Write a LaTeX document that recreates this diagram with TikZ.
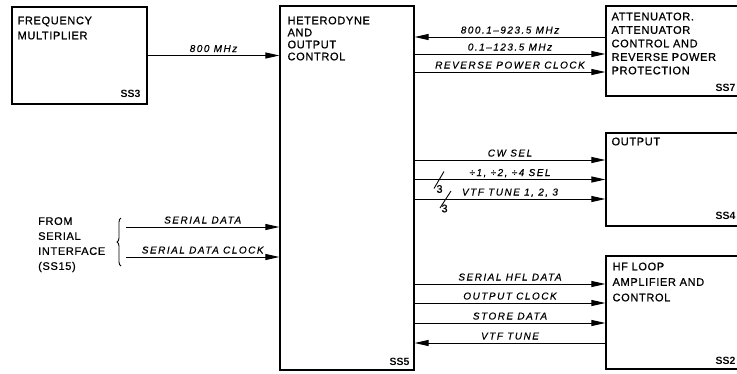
\documentclass[tikz,border=0pt]{standalone}
\usepackage{fontspec}
\setmainfont{Liberation Sans}
\newfontfamily\boxfont{Liberation Sans}[LetterSpace=6,FakeBold=0.8]
\newfontfamily\labfont{Liberation Sans}[LetterSpace=15,FakeBold=0.5]
\usetikzlibrary{arrows.meta,positioning,calc,decorations.pathreplacing}

\begin{document}
\begin{tikzpicture}[
  x=1pt, y=-1pt,
  >={Triangle[length=14pt,width=6pt]},
  blk/.style={draw,line width=1.2pt,inner sep=0pt},
  ttl/.style={font=\boxfont\fontsize{11}{#1}\selectfont,align=left,inner sep=0pt,anchor=north west},
  ttl/.default=13,
  ssl/.style={font=\bfseries\fontsize{10.5}{12}\selectfont,inner sep=0pt,text depth=0pt,anchor=south east},
  sig/.style={line width=1pt},
  lab/.style={midway,above=3pt,inner sep=0pt,text depth=0pt,font=\labfont\itshape\fontsize{10}{12}\selectfont},
  bus/.style={line width=0.9pt},
  busn/.style={font=\boxfont\fontsize{11}{12}\selectfont,inner sep=0pt}
]
\useasboundingbox (0,0) rectangle (737,373);

% ===================== blocks =====================
\node[blk,minimum width=135pt,minimum height=97pt] (ss3) at (79.5,55.5) {};
\node[blk,minimum width=134pt,minimum height=364pt] (ss5) at (347,188) {};
\node[blk,minimum width=136pt,minimum height=90pt] (ss7) at (674,51) {};
\node[blk,minimum width=136pt,minimum height=93pt] (ss4) at (674,179.5) {};
\node[blk,minimum width=136pt,minimum height=113pt] (ss2) at (674,312.5) {};

% titles
\node[ttl=15] (ss3t) at ([xshift=6pt,yshift=-10pt]ss3.north west) {FREQUENCY\\MULTIPLIER};
\node[ttl=12] (ss5t) at ([xshift=8pt,yshift=-11pt]ss5.north west) {HETERODYNE\\AND\\OUTPUT\\CONTROL};
\node[ttl=13.5] (ss7t) at ([xshift=6pt,yshift=-7pt]ss7.north west) {ATTENUATOR.\\ATTENUATOR\\CONTROL AND\\REVERSE POWER\\PROTECTION};
\node[ttl] (ss4t) at ([xshift=6pt,yshift=-5pt]ss4.north west) {OUTPUT};
\node[ttl=15.5] (ss2t) at ([xshift=7pt,yshift=-7pt]ss2.north west) {HF LOOP\\AMPLIFIER AND\\CONTROL};

% subsystem numbers
\node[ssl] (ss3n) at ([xshift=-7pt,yshift=7pt]ss3.south east) {SS3};
\node[ssl] (ss5n) at ([xshift=-5pt,yshift=5pt]ss5.south east) {SS5};
\node[ssl] (ss7n) at ([xshift=-7pt,yshift=5pt]ss7.south east) {SS7};
\node[ssl] (ss4n) at ([xshift=-7pt,yshift=7pt]ss4.south east) {SS4};
\node[ssl] (ss2n) at ([xshift=-7pt,yshift=5pt]ss2.south east) {SS2};

% ===================== serial interface input =====================
\node[ttl=15] (src) at (38,217) {FROM\\SERIAL\\INTERFACE\\(SS15)};
\coordinate (brt) at (121,218);
\coordinate (brb) at (121,266);
\draw[bus,decorate,decoration={brace,amplitude=4pt}] (brb) -- (brt);

\coordinate (sd) at (126,227);
\coordinate (sdc) at (126,257);
\draw[sig,->] (sd) -- (sd -| ss5.west) node[lab] {SERIAL DATA};
\draw[sig,->] (sdc) -- (sdc -| ss5.west) node[lab] {SERIAL DATA CLOCK};

% ===================== signals =====================
\draw[sig,->] (ss3.east) -- (ss3.east -| ss5.west) node[lab] {800 MHz};

\draw[sig,<-] (ss5.east |- 0,37) -- (ss7.west |- 0,37) node[lab] {800.1–923.5 MHz};
\draw[sig,->] (ss5.east |- 0,54) -- (ss7.west |- 0,54) node[lab] {0.1–123.5 MHz};
\draw[sig,->] (ss5.east |- 0,72) -- (ss7.west |- 0,72) node[lab] {REVERSE POWER CLOCK};

\draw[sig,->] (ss5.east |- 0,160) -- (ss4.west |- 0,160) node[lab] {CW SEL};
\draw[sig,->] (ss5.east |- 0,179.5) -- (ss4.west |- 0,179.5) node[lab] {÷1, ÷2, ÷4 SEL};
\draw[sig,->] (ss5.east |- 0,199) -- (ss4.west |- 0,199) node[lab] {VTF TUNE 1, 2, 3};

\draw[sig,->] (ss5.east |- 0,284) -- (ss2.west |- 0,284) node[lab] {SERIAL HFL DATA};
\draw[sig,->] (ss5.east |- 0,303) -- (ss2.west |- 0,303) node[lab] {OUTPUT CLOCK};
\draw[sig,->] (ss5.east |- 0,323) -- (ss2.west |- 0,323) node[lab] {STORE DATA};
\draw[sig,<-] (ss5.east |- 0,343) -- (ss2.west |- 0,343) node[lab] {VTF TUNE};

% bus width marks
\coordinate (bus1) at (439,179.5);
\coordinate (bus2) at (445,199);
\draw[bus] ([shift={(-5,9)}]bus1) -- ([shift={(5,-8)}]bus1);
\draw[bus] ([shift={(-5,9)}]bus2) -- ([shift={(6,-8)}]bus2);
\node[busn] (bus1n) at ([shift={(0.5,9.5)}]bus1) {3};
\node[busn] (bus2n) at ([shift={(-0.5,9.5)}]bus2) {3};

\end{tikzpicture}
\end{document}
